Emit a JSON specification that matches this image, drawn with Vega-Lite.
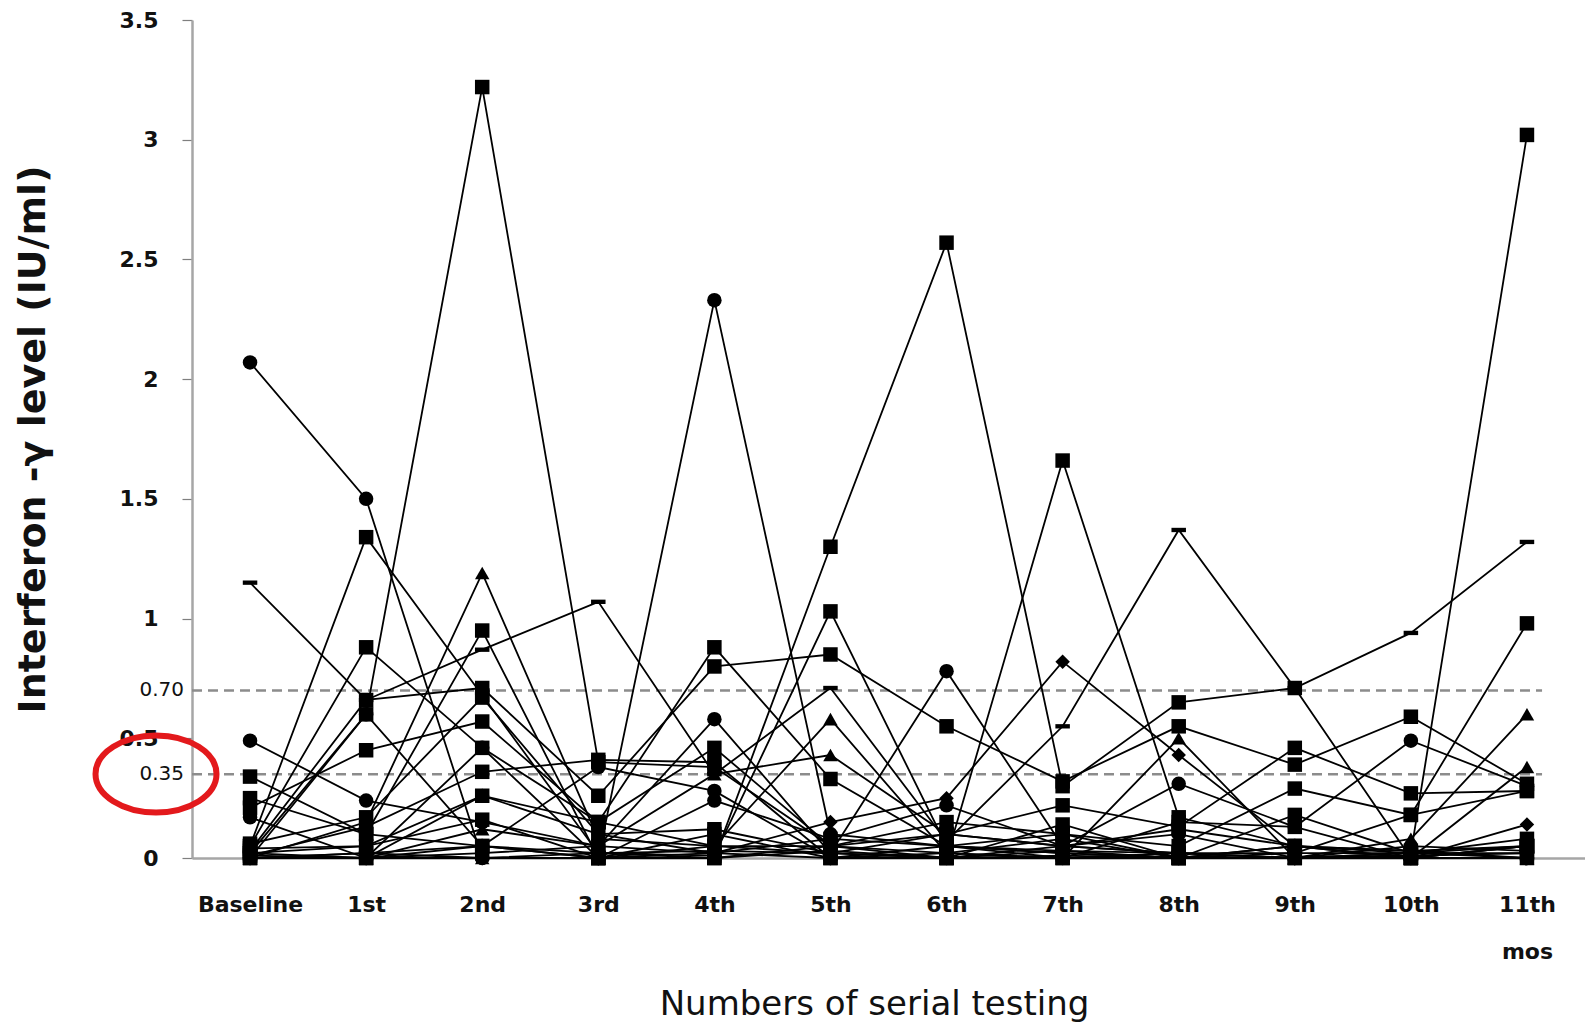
{
"$schema": "https://vega.github.io/schema/vega-lite/v6.json",
"width": 1393, "height": 838,
"autosize": {"type": "none"},
"padding": {"left": 192, "top": 20, "right": 0, "bottom": 167},
"background": "white",
"config": {"view": {"stroke": null}, "axis": {"grid": false}},
"datasets": {
"ifn": [
{"patient":"P1","test":0,"ifn":1.15},{"patient":"P1","test":1,"ifn":0.66},{"patient":"P1","test":2,"ifn":0.87},{"patient":"P1","test":3,"ifn":1.07},{"patient":"P1","test":4,"ifn":0.35},{"patient":"P1","test":5,"ifn":0.71},{"patient":"P1","test":6,"ifn":0.07},{"patient":"P1","test":7,"ifn":0.55},{"patient":"P1","test":8,"ifn":1.37},{"patient":"P1","test":9,"ifn":0.71},{"patient":"P1","test":10,"ifn":0.94},{"patient":"P1","test":11,"ifn":1.32},
{"patient":"P2","test":0,"ifn":2.07},{"patient":"P2","test":1,"ifn":1.50},{"patient":"P2","test":2,"ifn":0.00},{"patient":"P2","test":3,"ifn":0.00},{"patient":"P2","test":4,"ifn":2.33},{"patient":"P2","test":5,"ifn":0.10},{"patient":"P2","test":6,"ifn":0.05},{"patient":"P2","test":7,"ifn":0.03},{"patient":"P2","test":8,"ifn":0.02},{"patient":"P2","test":9,"ifn":0.00},{"patient":"P2","test":10,"ifn":0.01},{"patient":"P2","test":11,"ifn":0.02},
{"patient":"P3","test":0,"ifn":0.05},{"patient":"P3","test":1,"ifn":1.34},{"patient":"P3","test":2,"ifn":0.68},{"patient":"P3","test":3,"ifn":0.02},{"patient":"P3","test":4,"ifn":0.01},{"patient":"P3","test":5,"ifn":1.03},{"patient":"P3","test":6,"ifn":0.05},{"patient":"P3","test":7,"ifn":0.02},{"patient":"P3","test":8,"ifn":0.00},{"patient":"P3","test":9,"ifn":0.02},{"patient":"P3","test":10,"ifn":0.02},{"patient":"P3","test":11,"ifn":3.02},
{"patient":"P4","test":0,"ifn":0.02},{"patient":"P4","test":1,"ifn":0.60},{"patient":"P4","test":2,"ifn":3.22},{"patient":"P4","test":3,"ifn":0.40},{"patient":"P4","test":4,"ifn":0.38},{"patient":"P4","test":5,"ifn":0.05},{"patient":"P4","test":6,"ifn":0.00},{"patient":"P4","test":7,"ifn":1.66},{"patient":"P4","test":8,"ifn":0.17},{"patient":"P4","test":9,"ifn":0.05},{"patient":"P4","test":10,"ifn":0.03},{"patient":"P4","test":11,"ifn":0.05},
{"patient":"P5","test":0,"ifn":0.00},{"patient":"P5","test":1,"ifn":0.02},{"patient":"P5","test":2,"ifn":0.05},{"patient":"P5","test":3,"ifn":0.00},{"patient":"P5","test":4,"ifn":0.00},{"patient":"P5","test":5,"ifn":1.30},{"patient":"P5","test":6,"ifn":2.57},{"patient":"P5","test":7,"ifn":0.30},{"patient":"P5","test":8,"ifn":0.65},{"patient":"P5","test":9,"ifn":0.71},{"patient":"P5","test":10,"ifn":0.00},{"patient":"P5","test":11,"ifn":0.05},
{"patient":"P6","test":0,"ifn":0.00},{"patient":"P6","test":1,"ifn":0.15},{"patient":"P6","test":2,"ifn":1.19},{"patient":"P6","test":3,"ifn":0.08},{"patient":"P6","test":4,"ifn":0.05},{"patient":"P6","test":5,"ifn":0.58},{"patient":"P6","test":6,"ifn":0.02},{"patient":"P6","test":7,"ifn":0.00},{"patient":"P6","test":8,"ifn":0.50},{"patient":"P6","test":9,"ifn":0.00},{"patient":"P6","test":10,"ifn":0.08},{"patient":"P6","test":11,"ifn":0.60},
{"patient":"P7","test":0,"ifn":0.05},{"patient":"P7","test":1,"ifn":0.88},{"patient":"P7","test":2,"ifn":0.46},{"patient":"P7","test":3,"ifn":0.15},{"patient":"P7","test":4,"ifn":0.88},{"patient":"P7","test":5,"ifn":0.33},{"patient":"P7","test":6,"ifn":0.05},{"patient":"P7","test":7,"ifn":0.10},{"patient":"P7","test":8,"ifn":0.00},{"patient":"P7","test":9,"ifn":0.05},{"patient":"P7","test":10,"ifn":0.00},{"patient":"P7","test":11,"ifn":0.05},
{"patient":"P8","test":0,"ifn":0.34},{"patient":"P8","test":1,"ifn":0.10},{"patient":"P8","test":2,"ifn":0.95},{"patient":"P8","test":3,"ifn":0.00},{"patient":"P8","test":4,"ifn":0.05},{"patient":"P8","test":5,"ifn":0.05},{"patient":"P8","test":6,"ifn":0.10},{"patient":"P8","test":7,"ifn":0.22},{"patient":"P8","test":8,"ifn":0.13},{"patient":"P8","test":9,"ifn":0.46},{"patient":"P8","test":10,"ifn":0.27},{"patient":"P8","test":11,"ifn":0.28},
{"patient":"P9","test":0,"ifn":0.03},{"patient":"P9","test":1,"ifn":0.66},{"patient":"P9","test":2,"ifn":0.71},{"patient":"P9","test":3,"ifn":0.26},{"patient":"P9","test":4,"ifn":0.80},{"patient":"P9","test":5,"ifn":0.85},{"patient":"P9","test":6,"ifn":0.55},{"patient":"P9","test":7,"ifn":0.32},{"patient":"P9","test":8,"ifn":0.55},{"patient":"P9","test":9,"ifn":0.39},{"patient":"P9","test":10,"ifn":0.59},{"patient":"P9","test":11,"ifn":0.31},
{"patient":"P10","test":0,"ifn":0.49},{"patient":"P10","test":1,"ifn":0.24},{"patient":"P10","test":2,"ifn":0.15},{"patient":"P10","test":3,"ifn":0.05},{"patient":"P10","test":4,"ifn":0.58},{"patient":"P10","test":5,"ifn":0.02},{"patient":"P10","test":6,"ifn":0.78},{"patient":"P10","test":7,"ifn":0.05},{"patient":"P10","test":8,"ifn":0.31},{"patient":"P10","test":9,"ifn":0.13},{"patient":"P10","test":10,"ifn":0.49},{"patient":"P10","test":11,"ifn":0.30},
{"patient":"P11","test":0,"ifn":0.02},{"patient":"P11","test":1,"ifn":0.05},{"patient":"P11","test":2,"ifn":0.26},{"patient":"P11","test":3,"ifn":0.10},{"patient":"P11","test":4,"ifn":0.02},{"patient":"P11","test":5,"ifn":0.15},{"patient":"P11","test":6,"ifn":0.25},{"patient":"P11","test":7,"ifn":0.82},{"patient":"P11","test":8,"ifn":0.43},{"patient":"P11","test":9,"ifn":0.05},{"patient":"P11","test":10,"ifn":0.00},{"patient":"P11","test":11,"ifn":0.14},
{"patient":"P12","test":0,"ifn":0.00},{"patient":"P12","test":1,"ifn":0.00},{"patient":"P12","test":2,"ifn":0.12},{"patient":"P12","test":3,"ifn":0.05},{"patient":"P12","test":4,"ifn":0.35},{"patient":"P12","test":5,"ifn":0.43},{"patient":"P12","test":6,"ifn":0.10},{"patient":"P12","test":7,"ifn":0.05},{"patient":"P12","test":8,"ifn":0.02},{"patient":"P12","test":9,"ifn":0.00},{"patient":"P12","test":10,"ifn":0.00},{"patient":"P12","test":11,"ifn":0.38},
{"patient":"P13","test":0,"ifn":0.21},{"patient":"P13","test":1,"ifn":0.45},{"patient":"P13","test":2,"ifn":0.57},{"patient":"P13","test":3,"ifn":0.15},{"patient":"P13","test":4,"ifn":0.46},{"patient":"P13","test":5,"ifn":0.05},{"patient":"P13","test":6,"ifn":0.15},{"patient":"P13","test":7,"ifn":0.10},{"patient":"P13","test":8,"ifn":0.05},{"patient":"P13","test":9,"ifn":0.29},{"patient":"P13","test":10,"ifn":0.18},{"patient":"P13","test":11,"ifn":0.98},
{"patient":"P14","test":0,"ifn":0.17},{"patient":"P14","test":1,"ifn":0.00},{"patient":"P14","test":2,"ifn":0.46},{"patient":"P14","test":3,"ifn":0.00},{"patient":"P14","test":4,"ifn":0.24},{"patient":"P14","test":5,"ifn":0.08},{"patient":"P14","test":6,"ifn":0.22},{"patient":"P14","test":7,"ifn":0.05},{"patient":"P14","test":8,"ifn":0.10},{"patient":"P14","test":9,"ifn":0.00},{"patient":"P14","test":10,"ifn":0.05},{"patient":"P14","test":11,"ifn":0.03},
{"patient":"P15","test":0,"ifn":0.06},{"patient":"P15","test":1,"ifn":0.17},{"patient":"P15","test":2,"ifn":0.67},{"patient":"P15","test":3,"ifn":0.10},{"patient":"P15","test":4,"ifn":0.12},{"patient":"P15","test":5,"ifn":0.02},{"patient":"P15","test":6,"ifn":0.00},{"patient":"P15","test":7,"ifn":0.14},{"patient":"P15","test":8,"ifn":0.00},{"patient":"P15","test":9,"ifn":0.18},{"patient":"P15","test":10,"ifn":0.02},{"patient":"P15","test":11,"ifn":0.08},
{"patient":"P16","test":0,"ifn":0.01},{"patient":"P16","test":1,"ifn":0.13},{"patient":"P16","test":2,"ifn":0.36},{"patient":"P16","test":3,"ifn":0.41},{"patient":"P16","test":4,"ifn":0.40},{"patient":"P16","test":5,"ifn":0.00},{"patient":"P16","test":6,"ifn":0.05},{"patient":"P16","test":7,"ifn":0.00},{"patient":"P16","test":8,"ifn":0.15},{"patient":"P16","test":9,"ifn":0.13},{"patient":"P16","test":10,"ifn":0.00},{"patient":"P16","test":11,"ifn":0.05},
{"patient":"P17","test":0,"ifn":0.00},{"patient":"P17","test":1,"ifn":0.60},{"patient":"P17","test":2,"ifn":0.05},{"patient":"P17","test":3,"ifn":0.38},{"patient":"P17","test":4,"ifn":0.28},{"patient":"P17","test":5,"ifn":0.00},{"patient":"P17","test":6,"ifn":0.02},{"patient":"P17","test":7,"ifn":0.08},{"patient":"P17","test":8,"ifn":0.00},{"patient":"P17","test":9,"ifn":0.05},{"patient":"P17","test":10,"ifn":0.03},{"patient":"P17","test":11,"ifn":0.00},
{"patient":"P18","test":0,"ifn":0.04},{"patient":"P18","test":1,"ifn":0.05},{"patient":"P18","test":2,"ifn":0.16},{"patient":"P18","test":3,"ifn":0.00},{"patient":"P18","test":4,"ifn":0.10},{"patient":"P18","test":5,"ifn":0.00},{"patient":"P18","test":6,"ifn":0.00},{"patient":"P18","test":7,"ifn":0.05},{"patient":"P18","test":8,"ifn":0.12},{"patient":"P18","test":9,"ifn":0.05},{"patient":"P18","test":10,"ifn":0.02},{"patient":"P18","test":11,"ifn":0.05},
{"patient":"P19","test":0,"ifn":0.00},{"patient":"P19","test":1,"ifn":0.02},{"patient":"P19","test":2,"ifn":0.00},{"patient":"P19","test":3,"ifn":0.02},{"patient":"P19","test":4,"ifn":0.00},{"patient":"P19","test":5,"ifn":0.03},{"patient":"P19","test":6,"ifn":0.00},{"patient":"P19","test":7,"ifn":0.01},{"patient":"P19","test":8,"ifn":0.00},{"patient":"P19","test":9,"ifn":0.00},{"patient":"P19","test":10,"ifn":0.00},{"patient":"P19","test":11,"ifn":0.00},
{"patient":"P20","test":0,"ifn":0.00},{"patient":"P20","test":1,"ifn":0.00},{"patient":"P20","test":2,"ifn":0.02},{"patient":"P20","test":3,"ifn":0.05},{"patient":"P20","test":4,"ifn":0.02},{"patient":"P20","test":5,"ifn":0.08},{"patient":"P20","test":6,"ifn":0.05},{"patient":"P20","test":7,"ifn":0.02},{"patient":"P20","test":8,"ifn":0.00},{"patient":"P20","test":9,"ifn":0.00},{"patient":"P20","test":10,"ifn":0.02},{"patient":"P20","test":11,"ifn":0.02},
{"patient":"P21","test":0,"ifn":0.00},{"patient":"P21","test":1,"ifn":0.00},{"patient":"P21","test":2,"ifn":0.00},{"patient":"P21","test":3,"ifn":0.00},{"patient":"P21","test":4,"ifn":0.02},{"patient":"P21","test":5,"ifn":0.00},{"patient":"P21","test":6,"ifn":0.00},{"patient":"P21","test":7,"ifn":0.00},{"patient":"P21","test":8,"ifn":0.00},{"patient":"P21","test":9,"ifn":0.00},{"patient":"P21","test":10,"ifn":0.00},{"patient":"P21","test":11,"ifn":0.00},
{"patient":"P22","test":0,"ifn":0.25},{"patient":"P22","test":1,"ifn":0.10},{"patient":"P22","test":2,"ifn":0.05},{"patient":"P22","test":3,"ifn":0.00},{"patient":"P22","test":4,"ifn":0.00},{"patient":"P22","test":5,"ifn":0.05},{"patient":"P22","test":6,"ifn":0.02},{"patient":"P22","test":7,"ifn":0.00},{"patient":"P22","test":8,"ifn":0.02},{"patient":"P22","test":9,"ifn":0.00},{"patient":"P22","test":10,"ifn":0.00},{"patient":"P22","test":11,"ifn":0.00},
{"patient":"P23","test":0,"ifn":0.02},{"patient":"P23","test":1,"ifn":0.00},{"patient":"P23","test":2,"ifn":0.26},{"patient":"P23","test":3,"ifn":0.15},{"patient":"P23","test":4,"ifn":0.05},{"patient":"P23","test":5,"ifn":0.02},{"patient":"P23","test":6,"ifn":0.10},{"patient":"P23","test":7,"ifn":0.05},{"patient":"P23","test":8,"ifn":0.02},{"patient":"P23","test":9,"ifn":0.02},{"patient":"P23","test":10,"ifn":0.18},{"patient":"P23","test":11,"ifn":0.28},
{"patient":"P24","test":0,"ifn":0.01},{"patient":"P24","test":1,"ifn":0.00},{"patient":"P24","test":2,"ifn":0.05},{"patient":"P24","test":3,"ifn":0.02},{"patient":"P24","test":4,"ifn":0.03},{"patient":"P24","test":5,"ifn":0.02},{"patient":"P24","test":6,"ifn":0.00},{"patient":"P24","test":7,"ifn":0.03},{"patient":"P24","test":8,"ifn":0.00},{"patient":"P24","test":9,"ifn":0.00},{"patient":"P24","test":10,"ifn":0.02},{"patient":"P24","test":11,"ifn":0.00}
],
"cutoffs": [{"level": 0.70, "label": "0.70"}, {"level": 0.35, "label": "0.35"}],
"highlight": [{"level": 0.351, "note": "0.35 cutoff"}]
},
"layer": [
{
"data": {"name": "cutoffs"},
"mark": {"type": "rule", "stroke": "#8c8c8c", "strokeWidth": 2.5, "strokeDash": [10, 6]},
"encoding": {
"x": {"datum": -0.5, "type": "quantitative"},
"x2": {"datum": 11.13},
"y": {"field": "level", "type": "quantitative"}
}
},
{
"data": {"name": "ifn"},
"mark": {"type": "line", "color": "black", "strokeWidth": 1.8},
"encoding": {
"x": {"field": "test", "type": "quantitative",
"scale": {"domain": [-0.5, 11.5], "nice": false, "zero": false},
"axis": {"values": [0,1,2,3,4,5,6,7,8,9,10,11],
"labelExpr": "['Baseline','1st','2nd','3rd','4th','5th','6th','7th','8th','9th','10th',['11th','mos']][datum.value]",
"ticks": false, "domainColor": "#a6a6a6", "domainWidth": 2.5,
"labelFont": "DejaVu Sans", "labelFontWeight": "bold", "labelFontSize": 22, "labelColor": "#111",
"labelPadding": 36, "labelLineHeight": 47, "labelOverlap": false, "labelBaseline": "top",
"title": "Numbers of serial testing", "titleFont": "DejaVu Sans", "titleFontSize": 34, "titleFontWeight": "normal", "titleColor": "#111",
"titleX": 682, "titleY": 146, "titleBaseline": "middle", "titleAlign": "center"}},
"y": {"field": "ifn", "type": "quantitative",
"scale": {"domain": [0, 3.5], "nice": false},
"axis": {"values": [0,0.5,1,1.5,2,2.5,3,3.5], "format": "~g",
"domainColor": "#a6a6a6", "domainWidth": 2.5, "tickColor": "#7f7f7f", "tickSize": 10, "tickWidth": 1.2,
"labelFont": "DejaVu Sans", "labelFontWeight": "bold", "labelFontSize": 22, "labelColor": "#111", "labelPadding": 24,
"title": "Interferon -γ level (IU/ml)", "titleFont": "DejaVu Sans", "titleFontSize": 38, "titleFontWeight": "bold", "titleColor": "#111",
"titleX": -159, "titleY": 419, "titleAngle": -90, "titleBaseline": "middle", "titleAlign": "center"}},
"detail": {"field": "patient", "type": "nominal"},
"order": {"field": "test", "type": "quantitative"}
}
},
{
"data": {"name": "ifn"},
"mark": {"type": "point", "filled": true, "color": "black", "opacity": 1, "size": 210},
"encoding": {
"x": {"field": "test", "type": "quantitative"},
"y": {"field": "ifn", "type": "quantitative"},
"shape": {"field": "patient", "type": "nominal", "legend": null,
"scale": {"domain": ["P1","P2","P3","P4","P5","P6","P7","P8","P9","P10","P11","P12","P13","P14","P15","P16","P17","P18","P19","P20","P21","P22","P23","P24"],
"range": ["M-1,-0.3H1V0.3H-1Z","circle","square","square","square","triangle-up","square","square","square","circle","diamond","triangle-up","square","circle","square","square","circle","square","triangle-up","square","circle","square","square","triangle-up"]}}
}
},
{
"data": {"name": "cutoffs"},
"mark": {"type": "text", "align": "right", "baseline": "middle", "dx": -8, "font": "DejaVu Sans", "fontSize": 20, "color": "#111"},
"encoding": {
"x": {"datum": -0.5, "type": "quantitative"},
"y": {"field": "level", "type": "quantitative"},
"text": {"field": "label"}
}
},
{
"data": {"name": "highlight"},
"mark": {"type": "point", "filled": false, "stroke": "#e3191c", "strokeWidth": 6, "opacity": 1, "size": 14641,
"shape": "M1,0C1,0.351,0.552,0.636,0,0.636C-0.552,0.636,-1,0.351,-1,0C-1,-0.351,-0.552,-0.636,0,-0.636C0.552,-0.636,1,-0.351,1,0Z"},
"encoding": {
"x": {"datum": -0.81, "type": "quantitative"},
"y": {"field": "level", "type": "quantitative"}
}
}
]
}
